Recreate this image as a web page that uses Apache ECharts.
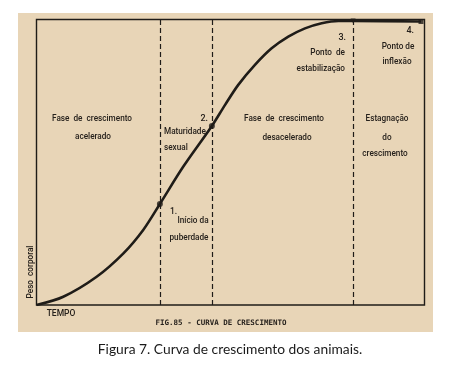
<!DOCTYPE html>
<html>
<head>
<meta charset="utf-8">
<script src="https://cdn.jsdelivr.net/npm/echarts@6/dist/echarts.min.js"></script>
<style>
html,body{margin:0;padding:0;background:#fff;}
#c{width:449px;height:368px;}
</style>
</head>
<body>
<div id="c"></div>
<script>
// Time (x, 0-100) and body weight (y, 0-100)
const curveTime   = [0, 6.9, 15.5, 22.4, 27.5, 31.8, 37.8, 45.2, 48.6, 52.0, 56.3, 60.6, 64.9, 69.2, 73.5, 77.8, 81.6, 99.1];
const curveWeight = [0, 2.9, 9.9, 18.1, 26.3, 35.4, 48.4, 62.7, 70.1, 77.1, 84.1, 89.9, 94.0, 96.9, 98.7, 99.5, 99.5, 99.3];
const keyTime     = [31.8, 45.2, 81.6, 99.1];
const keyWeight   = [35.4, 62.7, 99.5, 99.3];
const keyNames    = ['1.', '2.', '3.', '4.'];
const phaseBounds = [31.8, 45.3, 81.6];

const chart = echarts.init(document.getElementById('c'), null, {renderer:'canvas'});
const ink = '#1f1c18';
const font = 'Roboto';
const keySymbols = ['circle', 'circle', 'triangle', 'rect'];
const keySizes = [6, 6, 5, 5];
const keyRot = [0, 0, 180, 0];

function txt(x, y, s, align, size, extra) {
  return Object.assign({
    type: 'text', x: x, y: y, z: 10,
    style: { text: s, fill: '#26211c', font: '500 ' + (size || 8.2) + 'px ' + font, textAlign: align || 'center', textVerticalAlign: 'middle' }
  }, extra || {});
}

chart.setOption({
  animation: false,
  backgroundColor: '#ffffff',
  grid: { left: 36.5, top: 19.5, right: 24.5, bottom: 63, show: true, borderColor: ink, borderWidth: 1.4, backgroundColor: 'transparent' },
  xAxis: { type: 'value', min: 0, max: 100, axisLine: {show:false}, axisTick: {show:false}, axisLabel: {show:false}, splitLine: {show:false} },
  yAxis: { type: 'value', min: 0, max: 100, axisLine: {show:false}, axisTick: {show:false}, axisLabel: {show:false}, splitLine: {show:false} },
  graphic: [
    { type: 'rect', shape: { x: 18, y: 13, width: 415, height: 319 }, style: { fill: '#e8d5b7' }, z: -10, silent: true },
    txt(92, 119, 'Fase  de  crescimento'),
    txt(93, 137, 'acelerado'),
    txt(208, 119, '2.', 'right', 9),
    txt(164, 132, 'Maturidade', 'left'),
    txt(164, 148, 'sexual', 'left'),
    txt(170, 212, '1.', 'left', 8.5),
    txt(193, 221, 'Início da'),
    txt(189, 238, 'puberdade'),
    txt(284, 119, 'Fase  de  crescimento'),
    txt(287, 138, 'desacelerado'),
    txt(346, 38, '3.', 'right', 9),
    txt(345, 53, 'Ponto  de', 'right'),
    txt(345, 69, 'estabilização', 'right'),
    txt(414, 31, '4.', 'right', 9),
    txt(398, 47, 'Ponto de'),
    txt(397, 62, 'inflexão'),
    txt(387, 119, 'Estagnação'),
    txt(387, 138, 'do'),
    txt(385, 154, 'crescimento'),
    txt(31, 272, 'Peso  corporal', 'center', 8.2, { rotation: Math.PI / 2 }),
    txt(61, 314, 'TEMPO', 'center', 8.5),
    { type: 'text', x: 221, y: 323, z: 10, style: { text: 'FIG.85 - CURVA DE CRESCIMENTO', fill: '#26211c', font: 'bold 7.5px "DejaVu Sans Mono"', textAlign: 'center', textVerticalAlign: 'middle' } },
    { type: 'text', x: 230, y: 350, z: 10, style: { text: 'Figura 7. Curva de crescimento dos animais.', fill: '#1a1a1a', font: '13.8px Lato', textAlign: 'center', textVerticalAlign: 'middle' } }
  ],
  series: [
    {
      type: 'line',
      data: curveTime.map((t, i) => [t, curveWeight[i]]),
      smooth: 0.3,
      showSymbol: false,
      lineStyle: { color: ink, width: 2.6 },
      markLine: {
        silent: true,
        symbol: ['none', 'none'],
        label: { show: false },
        lineStyle: { color: ink, width: 1.2, type: [5, 3] },
        data: phaseBounds.map(v => ({ xAxis: v }))
      },
      z: 3
    },
    {
      type: 'scatter',
      data: keyTime.map((t, i) => ({ value: [t, keyWeight[i]], name: keyNames[i], symbol: keySymbols[i], symbolSize: keySizes[i], symbolRotate: keyRot[i] })),
      itemStyle: { color: ink },
      z: 4
    }
  ]
});
</script>
</body>
</html>
